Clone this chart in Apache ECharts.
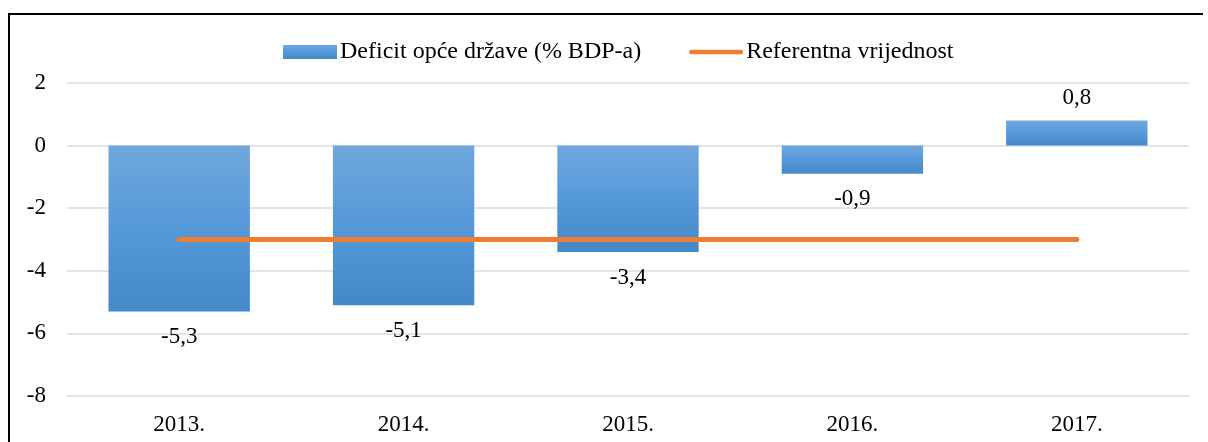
<!DOCTYPE html>
<html>
<head>
<meta charset="utf-8">
<script src="https://cdn.jsdelivr.net/npm/echarts@6/dist/echarts.min.js"></script>
<style>
html,body{margin:0;padding:0;background:#fff;}
#frame{position:absolute;left:8px;top:13px;width:1195px;height:440px;border:2px solid #000;border-right:none;box-sizing:border-box;}
#chart{position:absolute;left:0;top:0;width:1208px;height:442px;}
</style>
</head>
<body>
<div id="frame"></div>
<div id="chart"></div>
<script>
//数据
var years=['2013.','2014.','2015.','2016.','2017.'];
var deficit=[-5.3,-5.1,-3.4,-0.9,0.8];
var referenca=[-3,-3,-3,-3,-3];
var seriesNames=['Deficit opće države (% BDP-a)','Referentna vrijednost'];

var fontFam='"Liberation Serif","Times New Roman",serif';
var fs=23;
var chart=echarts.init(document.getElementById('chart'));
var barColor=new echarts.graphic.LinearGradient(0,0,0,1,[
	{offset:0,color:'#70a7dd'},
	{offset:0.5,color:'#5599d9'},
	{offset:1,color:'#4488c8'}
]);
//柱状数据：负值标签放下方
var barData=deficit.map(function(v){
	return {value:v,label:{position:v<0?'bottom':'top',distance:v<0?14:11}};
});
chart.setOption({
	animation:false,
	textStyle:{fontFamily:fontFam,color:'#000'},
	legend:{
		top:35,
		left:278,
		itemWidth:54,
		itemHeight:14,
		itemGap:48,
		textStyle:{fontFamily:fontFam,fontSize:24,color:'#000',padding:[0,0,0,-2]},
		data:[
			{name:seriesNames[0],icon:'rect'},
			{name:seriesNames[1],icon:'path://M3,0 L97,0 A3,3 0 0 1 97,9 L3,9 A3,3 0 0 1 3,0 Z',itemStyle:{color:'#ed7d31'}}
		]
	},
	grid:{left:67,right:19,top:83,bottom:46,containLabel:false},
	xAxis:{
		type:'category',
		data:years,
		axisLine:{show:false},
		axisTick:{show:false},
		axisLabel:{fontFamily:fontFam,fontSize:fs,color:'#000',margin:17}
	},
	yAxis:{
		type:'value',
		min:-8,max:2,interval:2,
		axisLine:{show:false},
		axisTick:{show:false},
		axisLabel:{fontFamily:fontFam,fontSize:fs,color:'#000',margin:21},
		splitLine:{lineStyle:{color:'#d9dee4',width:1.5}}
	},
	series:[
		{
			name:seriesNames[0],
			type:'bar',
			data:barData,
			barWidth:'63%',
			itemStyle:{color:barColor},
			label:{
				show:true,
				fontFamily:fontFam,fontSize:fs,color:'#000',
				formatter:function(p){return String(p.value).replace('.',',');}
			}
		},
		{
			name:seriesNames[1],
			type:'line',
			data:referenca,
			symbol:'none',
			lineStyle:{color:'#ed7d31',width:5,cap:'round'},
			itemStyle:{color:'#ed7d31'}
		}
	]
});
</script>
</body>
</html>
